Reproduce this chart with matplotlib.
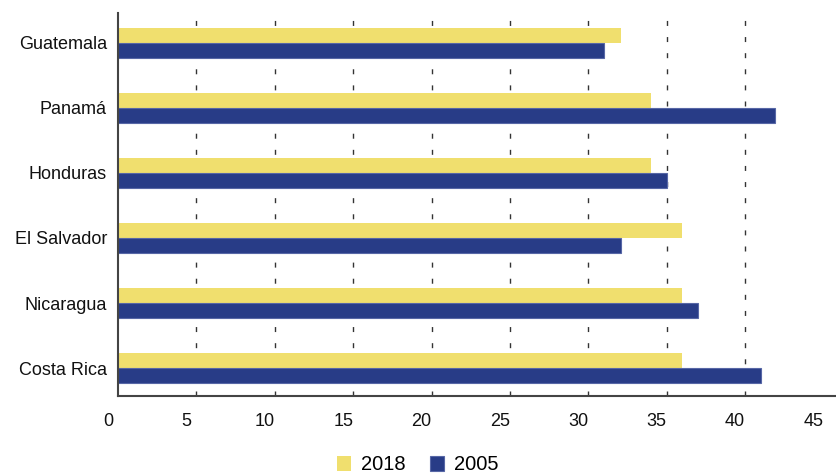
import numpy as np
import matplotlib
matplotlib.use('Agg')
import matplotlib.pyplot as plt
import matplotlib.transforms as mtransforms

plt.rcParams['font.family'] = ['Liberation Sans', 'DejaVu Sans']

# datos (de abajo hacia arriba)
paises = ['Costa Rica', 'Nicaragua', 'El Salvador', 'Honduras', 'Panamá', 'Guatemala']
v2018 = [36.0, 36.0, 36.0, 34.0, 34.0, 32.1]
v2005 = [41.0, 37.0, 32.1, 35.0, 41.9, 31.0]
xticks = [0, 5, 10, 15, 20, 25, 30, 35, 40, 45]

amarillo = '#f0df6e'
azul = '#283c87'

fig = plt.figure(figsize=(8.36, 4.74), dpi=100)
ax = fig.add_axes([118/836, 78/474, 718/836, 383/474])

y = np.arange(len(paises))
h = 0.23
ax.barh(y + h/2, v2018, height=h, color=amarillo, label='2018', zorder=2)
ax.barh(y - h/2, v2005, height=h, color=azul, edgecolor='#5767a6', linewidth=0.8,
        label='2005', zorder=2)

ax.set_xlim(0, 45.8)
ax.set_ylim(-0.43, 5.46)
ax.set_xticks(xticks)
ax.set_yticks(y)
ax.set_yticklabels(paises)

for xv in xticks[1:-1]:
    ax.axvline(xv, color='#333333', lw=1.0, linestyle=(0, (3.6, 8)), zorder=1)

for s in ['top', 'right']:
    ax.spines[s].set_visible(False)
ax.spines['left'].set_color('#444444')
ax.spines['bottom'].set_color('#444444')
ax.spines['left'].set_linewidth(1.5)
ax.spines['bottom'].set_linewidth(1.5)

ax.tick_params(axis='y', length=0, pad=8, labelsize=13, colors='#111111')
ax.tick_params(axis='x', length=0, pad=12, labelsize=13, colors='#111111')

desplaza = mtransforms.ScaledTranslation(-10/100, 0, fig.dpi_scale_trans)
for lab in ax.get_xticklabels():
    lab.set_transform(lab.get_transform() + desplaza)

fig.legend(loc='center', bbox_to_anchor=(0.5, 9/474), ncol=2, frameon=False,
           fontsize=14.5, handlelength=0.7, handleheight=0.7, handletextpad=0.5,
           columnspacing=1.2)

plt.savefig('out.png', dpi=100)
plt.close()
